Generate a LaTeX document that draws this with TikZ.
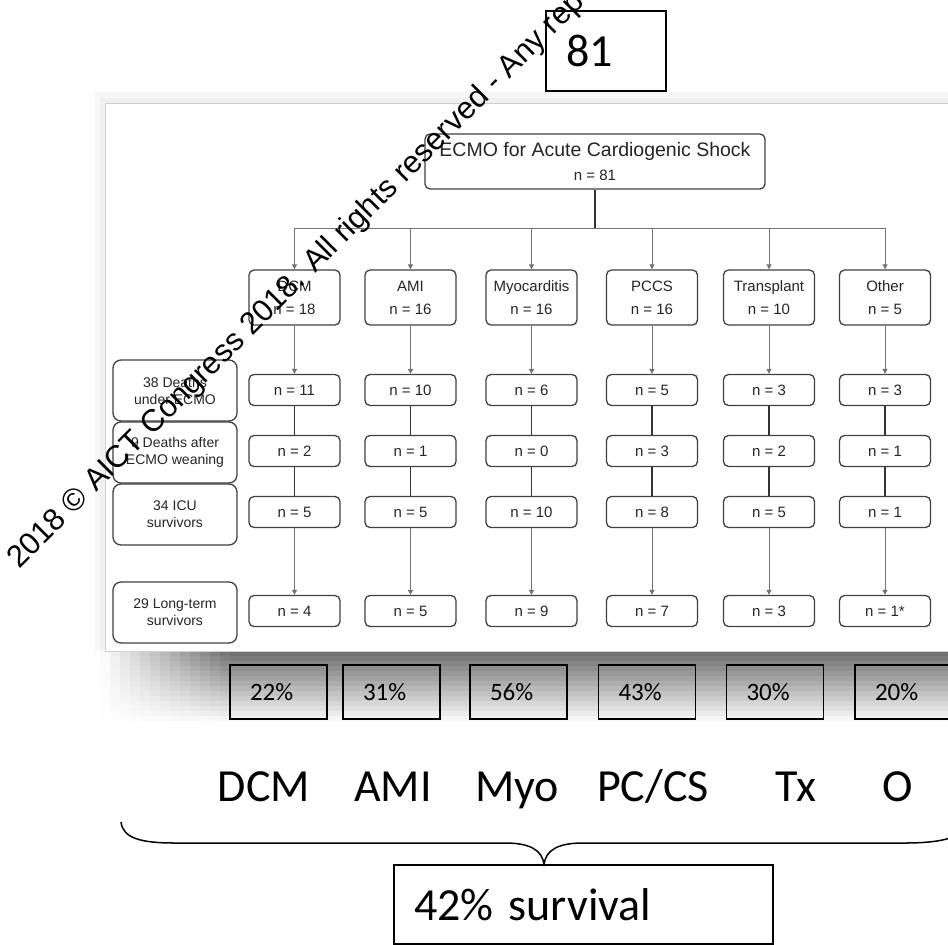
\documentclass[tikz,border=0pt]{standalone}
\usepackage{fontspec}
\setmainfont{Carlito}
\newfontfamily\diagfont{Liberation Sans}
\usetikzlibrary{arrows.meta}
\newcommand\fsz[2]{\fontsize{#1}{#2}\selectfont}

\begin{document}
\begin{tikzpicture}[x=1pt,y=-1pt,
  box/.style={draw=black!75,line width=1.3pt,rounded corners=5pt,
    font=\diagfont\fsz{15}{23},text=black!85,align=center,inner sep=0pt},
  catbox/.style={box,minimum width=91pt,minimum height=55pt},
  nbox/.style={box,minimum width=91pt,minimum height=31pt},
  lblbox/.style={box,rounded corners=8pt,minimum width=124pt,
    minimum height=61pt,font=\diagfont\fsz{14}{17}},
  titlebox/.style={box,minimum width=340pt,minimum height=55pt,
    font=\diagfont\fsz{19.5}{24}},
  arr/.style={draw=black!55,line width=0.9pt,-{Triangle[length=5pt,width=5pt]}},
  stem/.style={draw=black!80,line width=1.1pt},
  sq/.style={draw=black,line width=1.5pt,inner xsep=20pt,inner ysep=0pt,align=left},
  pct/.style={sq,text width=57pt,minimum height=54pt,font=\fsz{25}{30}},
  big/.style={font=\fsz{46}{55}},
  cat/.style={anchor=base,font=\fsz{46}{55}},
]
\useasboundingbox (0,0) rectangle (948,945);
\clip (0,0) rectangle (948,945);
\fill[white] (0,0) rectangle (948,945);

% stepped drop shadow under the flow chart panel, fading in from the left
\foreach \j in {0,...,13}{
  \pgfmathsetmacro\ii{56*(1-\j/14)}
  \fill[black!\ii] (229.7,651+5*\j) rectangle (948,656.3+5*\j);
  \foreach \k in {0,...,12}{
    \pgfmathsetmacro\ff{\ii*(\k+0.5)/13}
    \fill[black!\ff] (100+10*\k,651+5*\j) rectangle (110.3+10*\k,656.3+5*\j);
  }
}

% flow chart panel with a soft frame
\fill[black!3] (95,92) rectangle (948,651);
\fill[black!6] (100,98) rectangle (948,651);
\filldraw[fill=white,draw=black!18,line width=1pt] (105,103) rectangle (960,651);

% top of the tree
\node[titlebox] (top) at (595,161.5)
  {ECMO for Acute Cardiogenic Shock\\{\fsz{15}{24}n = 81}};
\coordinate (jn) at (top.south |- 0,228);
\draw[line width=2.2pt,black!80] (top.south) -- (jn);

% row labels on the left
\node[lblbox] (l1) at (175,390.5) {38 Deaths\\under ECMO};
\node[lblbox] (l2) at (175,452.5) {9 Deaths after\\ECMO weaning};
\node[lblbox] (l3) at (175,514.5) {34 ICU\\survivors};
\node[lblbox] (l4) at (175,612.5) {29 Long-term\\survivors};

% one column per aetiology
\foreach \i/\x/\nm/\cnt/\va/\vb/\vc/\vd in {
  1/294.5/DCM/18/11/2/5/4,
  2/410.5/AMI/16/10/1/5/5,
  3/531.5/Myocarditis/16/6/0/10/9,
  4/652/PCCS/16/5/3/8/7,
  5/769/Transplant/10/3/2/5/3,
  6/885/Other/5/3/1/1/1*}{
  \node[catbox] (c\i) at (\x,297.5) {\nm\\n = \cnt};
  \node[nbox] (ra\i) at (\x,390) {n = \va};
  \node[nbox] (rb\i) at (\x,451) {n = \vb};
  \node[nbox] (rc\i) at (\x,512) {n = \vc};
  \node[nbox] (rd\i) at (\x,611) {n = \vd};
  \draw[arr] (jn) -| (c\i.north);
  \draw[arr] (c\i.south) -- (ra\i.north);
  \draw[stem] (ra\i.south) -- (rb\i.north);
  \draw[stem] (rb\i.south) -- (rc\i.north);
  \draw[arr] (rc\i.south) -- (rd\i.north);
}

% survival per aetiology
\node[pct] (p1) at (278.5,692) {22\%};
\node[pct] (p2) at (391.5,692) {31\%};
\node[pct] (p3) at (518.5,692) {56\%};
\node[pct] (p4) at (647,692) {43\%};
\node[pct] (p5) at (775,692) {30\%};
\node[pct] (p6) at (903.5,692) {20\%};

\node[cat] (k1) at (264,801) {DCM};
\node[cat] (k2) at (393,801) {AMI};
\node[cat] (k3) at (517,801) {Myo};
\node[cat] (k4) at (653,801) {PC/CS};
\node[cat] (k5) at (796,801) {Tx};
\node[cat] (k6) at (898,801) {O};

% total count and overall survival
\node[sq,big,text width=80pt,minimum height=80pt] (tot) at (606,51) {81};
\node[sq,big,text width=339pt,minimum height=79pt] (surv) at (583.5,904.5) {42\% survival};

% brace gathering all groups
\coordinate (bl) at (121,822);
\coordinate (br) at (967,822);
\draw[line width=1.5pt] (bl) .. controls (123,838) and (140,843) .. (175,843)
  -- (505,843) .. controls (530,843) and (542,850) .. (surv.north -| 544,0)
  .. controls (546,850) and (558,843) .. (583,843)
  -- (905,843) .. controls (940,843) and (965,838) .. (br);

% copyright line
\node[anchor=base west,rotate=45,inner sep=0pt,font=\diagfont\fsz{31}{37}] (wm)
  at (19,570) {2018 © AICT Congress 2018. All rights reserved - Any rep};
\end{tikzpicture}
\end{document}
